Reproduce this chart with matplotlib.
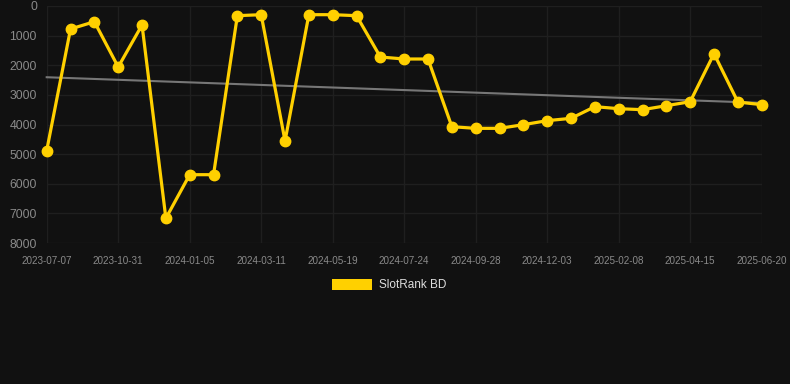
import matplotlib
matplotlib.use("Agg")
import matplotlib.pyplot as plt
import numpy as np

dates = ["2023-07-07", "2023-08-15", "2023-09-22", "2023-10-31", "2023-11-22",
         "2023-12-14", "2024-01-05", "2024-01-27", "2024-02-18", "2024-03-11",
         "2024-04-03", "2024-04-26", "2024-05-19", "2024-06-10", "2024-07-02",
         "2024-07-24", "2024-08-15", "2024-09-06", "2024-09-28", "2024-10-20",
         "2024-11-11", "2024-12-03", "2024-12-25", "2025-01-17", "2025-02-08",
         "2025-03-02", "2025-03-24", "2025-04-15", "2025-05-07", "2025-05-29",
         "2025-06-20"]
ranks = [4880, 776, 530, 2059, 641, 7167, 5694, 5694, 327, 293,
         4557, 293, 293, 327, 1722, 1789, 1789, 4074, 4130, 4130,
         4006, 3870, 3792, 3398, 3466, 3500, 3365, 3230, 1609, 3241,
         3331]
series_label = "SlotRank BD"
yticks = [0, 1000, 2000, 3000, 4000, 5000, 6000, 7000, 8000]

W, H = 790, 384
fig = plt.figure(figsize=(W / 100, H / 100), dpi=100)
bg = "#111111"
fig.patch.set_facecolor(bg)
x0, x1 = 46.7, 761.7
ytop, ybot = 6, 243
ax = fig.add_axes([x0 / W, 1 - ybot / H, (x1 - x0) / W, (ybot - ytop) / H])
ax.set_facecolor(bg)

x = np.arange(len(ranks))
# trend line
coef = np.polyfit(x, ranks, 1)
ax.plot(x, np.polyval(coef, x), color="#777777", lw=1.5, zorder=2, clip_on=False)

ax.plot(x, ranks, color="#FFD000", lw=2.3, marker="o", ms=7.5,
        markerfacecolor="#FFD000", markeredgecolor="#FFD000", zorder=3,
        clip_on=False, label=series_label)

ax.set_xlim(0, len(ranks) - 1)
ax.set_ylim(8000, 0)
ax.set_yticks(yticks)
ax.set_yticklabels([str(v) for v in yticks])
tick_idx = list(range(0, len(dates), 3))
ax.set_xticks(tick_idx)
ax.set_xticklabels([dates[i] for i in tick_idx])

for s in ax.spines.values():
    s.set_visible(False)
ax.grid(True, color="#1f1f1f", lw=1)
ax.set_axisbelow(True)
ax.tick_params(axis="y", length=0, pad=7, labelsize=8.8, labelcolor="#8a8a8a")
ax.tick_params(axis="x", length=0, pad=9, labelsize=7.1, labelcolor="#8a8a8a")
for lab in ax.get_yticklabels() + ax.get_xticklabels():
    lab.set_fontfamily("Liberation Sans")

# legend
fig.patches.append(plt.Rectangle((332 / W, 1 - 290 / H), 40 / W, 11 / H,
                                 transform=fig.transFigure, facecolor="#FFD000",
                                 edgecolor="#FFD000", lw=0))
fig.text(379 / W, 1 - 285 / H, series_label, color="#dddddd", fontsize=8.5,
         fontfamily="Liberation Sans", va="center", ha="left")

fig.savefig("out.png", dpi=100, facecolor=bg)
